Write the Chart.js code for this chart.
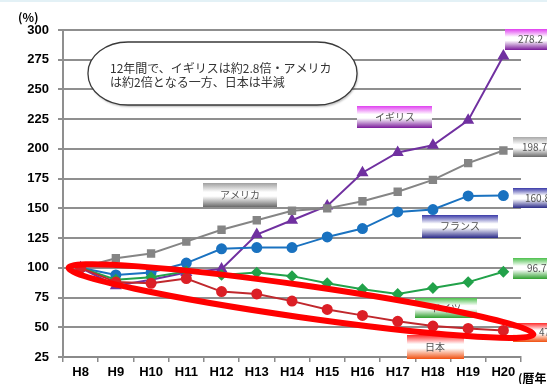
<!DOCTYPE html>
<html>
<head>
<meta charset="utf-8">
<script src="https://cdn.jsdelivr.net/npm/chart.js@4"></script>
<style>
html,body{margin:0;padding:0;background:#fff;}
#wrap{position:relative;width:547px;height:384px;}
</style>
</head>
<body>
<div id="wrap"><canvas id="c" width="547" height="384"></canvas></div>
<script>
const categories = ['H8','H9','H10','H11','H12','H13','H14','H15','H16','H17','H18','H19','H20'];
const yTicks = [25,50,75,100,125,150,175,200,225,250,275,300];
const uk      = [100, 85, 90, 96, 99, 128, 140, 152, 180, 197, 203, 224, 278.2];
const usa     = [100, 108, 112, 122, 132, 140, 148, 150, 156, 164, 174, 188, 198.7];
const france  = [100, 94, 96, 104, 116, 117, 117, 126, 133, 147, 149, 160.5, 160.8];
const germany = [100, 90, 92, 97, 94, 96, 93, 87, 82, 78, 83, 88, 96.7];
const japan   = [100, 88, 87, 91, 80, 78, 72, 65, 60, 55, 51, 49, 47.3];
const seriesNames = ['イギリス','アメリカ','フランス','ドイツ','日本'];
const calloutLines = ['12年間で、イギリスは約2.8倍・アメリカ','は約2倍となる一方、日本は半減'];

const CJK = '"Noto Sans CJK JP", "Noto Sans", sans-serif';

function gradBox(ctx, x, y, w, h, top, bottom) {
  const g = ctx.createLinearGradient(0, y, 0, y + h);
  g.addColorStop(0, top);
  g.addColorStop(0.38, '#ffffff');
  g.addColorStop(0.55, '#ffffff');
  g.addColorStop(1, bottom);
  ctx.fillStyle = g;
  ctx.fillRect(x, y, w, h);
}
function boxText(ctx, txt, x, y, align) {
  ctx.save();
  ctx.font = '10px ' + CJK;
  ctx.fillStyle = '#555';
  ctx.textAlign = align || 'center';
  ctx.textBaseline = 'middle';
  ctx.fillText(txt, x, y);
  ctx.restore();
}

const annot = {
  id: 'annot',
  beforeDatasetsDraw(chart) {
    const ctx = chart.ctx;
    ctx.save();
    ctx.fillStyle = '#e3f1f6';
    ctx.fillRect(0, 0, 547, 2);
    const x0 = 88, x1 = 357, y0 = 42, y1 = 105, rx = 40, ry = 31;
    ctx.beginPath();
    ctx.moveTo(x0 + rx, y0);
    ctx.lineTo(x1 - rx, y0);
    ctx.ellipse(x1 - rx, y0 + ry, rx, ry, 0, -Math.PI/2, 0);
    ctx.lineTo(x1, y1 - ry);
    ctx.ellipse(x1 - rx, y1 - ry, rx, ry, 0, 0, Math.PI/2);
    ctx.lineTo(x0 + rx, y1);
    ctx.ellipse(x0 + rx, y1 - ry, rx, ry, 0, Math.PI/2, Math.PI);
    ctx.lineTo(x0, y0 + ry);
    ctx.ellipse(x0 + rx, y0 + ry, rx, ry, 0, Math.PI, Math.PI*1.5);
    ctx.closePath();
    ctx.fillStyle = '#ffffff';
    ctx.shadowColor = 'rgba(0,0,0,0.25)';
    ctx.shadowOffsetX = 1; ctx.shadowOffsetY = 2; ctx.shadowBlur = 2;
    ctx.fill();
    ctx.shadowColor = 'transparent';
    ctx.strokeStyle = '#3a3a3a';
    ctx.lineWidth = 1.3;
    ctx.stroke();
    ctx.font = '12px ' + CJK;
    ctx.fillStyle = '#333';
    ctx.textBaseline = 'middle';
    ctx.fillText(calloutLines[0], 110, 68);
    ctx.fillText(calloutLines[1], 110, 82);
    ctx.restore();
  },
  afterDatasetsDraw(chart) {
    const ctx = chart.ctx;
    ctx.save();
    gradBox(ctx, 357, 106, 75, 22, '#e040f0', '#7a1a9a');
    boxText(ctx, seriesNames[0], 395, 117);
    gradBox(ctx, 203, 183, 74, 24, '#a0a0a0', '#6a6a6a');
    boxText(ctx, seriesNames[1], 240, 195);
    gradBox(ctx, 422, 215, 76, 23, '#3a3aa8', '#2a2a88');
    boxText(ctx, seriesNames[2], 460, 226);
    gradBox(ctx, 415, 298, 62, 20, '#4cc04c', '#2fa02f');
    boxText(ctx, seriesNames[3], 446, 308);
    gradBox(ctx, 407, 335, 57, 24, '#ff2a2a', '#f05010');
    boxText(ctx, seriesNames[4], 435, 347);
    gradBox(ctx, 505, 29, 42, 21, '#e040f0', '#7a1a9a');
    boxText(ctx, uk[uk.length-1].toFixed(1), 518, 39.5, 'left');
    gradBox(ctx, 513, 137, 34, 20, '#a8a8a8', '#6a6a6a');
    boxText(ctx, usa[usa.length-1].toFixed(1), 522, 147, 'left');
    gradBox(ctx, 513, 188, 34, 20, '#3a3aa8', '#2a2a88');
    boxText(ctx, france[france.length-1].toFixed(1), 525, 198, 'left');
    gradBox(ctx, 513, 258, 34, 21, '#4cc04c', '#2fa02f');
    boxText(ctx, germany[germany.length-1].toFixed(1), 527, 268, 'left');
    gradBox(ctx, 513, 323, 34, 19, '#ff2a2a', '#f05010');
    boxText(ctx, japan[japan.length-1].toFixed(1), 539, 332, 'left');
    ctx.restore();
  },
  afterDraw(chart) {
    const ctx = chart.ctx;
    const xs = chart.scales.x, ys = chart.scales.y;
    const lx = xs.getPixelForValue(0) - 12, ly = ys.getPixelForValue(100);
    const rxp = xs.getPixelForValue(12) + 30, ryp = ys.getPixelForValue(44);
    const cx = (lx + rxp) / 2, cy = (ly + ryp) / 2;
    const ang = Math.atan2(ryp - ly, rxp - lx);
    const a = Math.hypot(rxp - lx, ryp - ly) / 2;
    ctx.save();
    ctx.beginPath();
    ctx.ellipse(cx, cy, a, 16, ang, 0, Math.PI * 2);
    ctx.strokeStyle = '#ff0000';
    ctx.lineWidth = 6;
    ctx.stroke();
    ctx.fillStyle = '#000';
    ctx.font = 'bold 12px ' + CJK;
    ctx.textBaseline = 'middle';
    ctx.textAlign = 'left';
    ctx.fillText('(%)', 18, 17);
    ctx.fillText('(暦年)', 518, 378);
    ctx.restore();
  }
};

function ds(label, data, color, pointStyle, radius, lineColor) {
  return {
    label, data,
    borderColor: lineColor || color,
    backgroundColor: color,
    pointBackgroundColor: color,
    pointBorderColor: color,
    pointStyle, pointRadius: radius,
    borderWidth: 2,
    tension: 0,
    fill: false
  };
}

new Chart(document.getElementById('c'), {
  type: 'line',
  data: {
    labels: categories,
    datasets: [
      ds(seriesNames[4], japan, '#dc1f26', 'circle', 4.5, '#c0282d'),
      ds(seriesNames[3], germany, '#22a24a', 'rectRot', 4.5),
      ds(seriesNames[2], france, '#1a72c0', 'circle', 4.5),
      ds(seriesNames[1], usa, '#858585', 'rect', 4.5),
      ds(seriesNames[0], uk, '#7030a0', 'triangle', 5)
    ]
  },
  options: {
    responsive: false,
    animation: false,
    devicePixelRatio: 1,
    layout: { padding: { top: 30, right: 26, left: 0, bottom: 0 } },
    plugins: { legend: { display: false }, tooltip: { enabled: false } },
    scales: {
      x: {
        offset: true,
        grid: { offset: true, drawOnChartArea: false, drawTicks: true, tickLength: 5, color: '#8a8a8a', lineWidth: 1.5 },
        border: { display: true, color: '#8a8a8a', width: 2 },
        ticks: { color: '#000', font: { family: '"Liberation Sans", Arial, sans-serif', size: 13, weight: 'bold' }, padding: 3, maxRotation: 0, autoSkip: false },
        afterFit(s) { s.height = 27; }
      },
      y: {
        min: 25, max: 300,
        afterBuildTicks(s) { s.ticks = yTicks.map(v => ({ value: v })); },
        grid: { color: '#8f8f8f', lineWidth: 2, tickLength: 5 },
        border: { display: true, color: '#8f8f8f', width: 2 },
        ticks: { color: '#000', font: { family: '"Liberation Sans", Arial, sans-serif', size: 13, weight: 'bold' }, padding: 9 },
        afterFit(s) { s.width = 63; }
      }
    }
  },
  plugins: [annot]
});
</script>
</body>
</html>
